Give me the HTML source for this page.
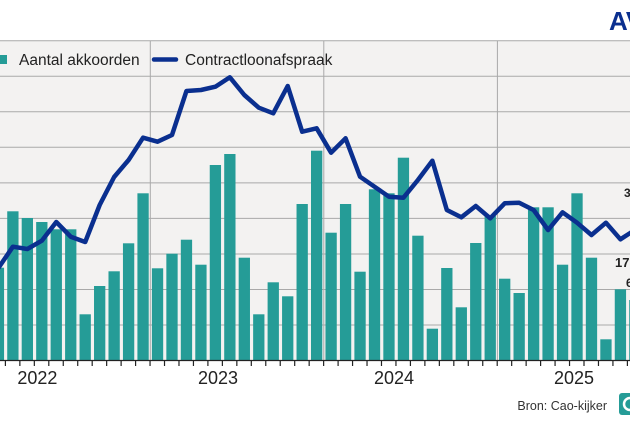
<!DOCTYPE html>
<html><head><meta charset="utf-8"><style>
body{margin:0;background:#fff;width:630px;height:420px;overflow:hidden;font-family:"Liberation Sans",sans-serif}
</style></head><body>
<svg width="630" height="420" xmlns="http://www.w3.org/2000/svg" font-family="Liberation Sans, sans-serif">
<rect x="0" y="0" width="630" height="420" fill="#fff"/>
<rect x="0" y="40.5" width="630" height="319.5" fill="#f3f2f1"/>
<g stroke="#a9a9a9" stroke-width="1">
<line x1="0" x2="630" y1="40.7" y2="40.7"/>
<line x1="0" x2="630" y1="76.2" y2="76.2"/>
<line x1="0" x2="630" y1="111.8" y2="111.8"/>
<line x1="0" x2="630" y1="147.3" y2="147.3"/>
<line x1="0" x2="630" y1="182.9" y2="182.9"/>
<line x1="0" x2="630" y1="218.4" y2="218.4"/>
<line x1="0" x2="630" y1="254" y2="254"/>
<line x1="0" x2="630" y1="289.5" y2="289.5"/>
<line x1="0" x2="630" y1="325" y2="325"/>
<line x1="150.3" x2="150.3" y1="40.7" y2="360"/>
<line x1="323.8" x2="323.8" y1="40.7" y2="360"/>
<line x1="497.4" x2="497.4" y1="40.7" y2="360"/>
</g>
<g fill="#259c97" id="bars"></g>
<polyline id="ln" fill="none" stroke="#0a2f8f" stroke-width="4.5" stroke-linejoin="round" points=""/>
<line x1="0" x2="630" y1="360.5" y2="360.5" stroke="#222" stroke-width="1.2"/>
<g id="ticks" stroke="#222" stroke-width="1.2"></g>
<g font-size="18" fill="#222" text-anchor="middle">
<text x="37.4" y="384">2022</text>
<text x="218" y="384">2023</text>
<text x="394" y="384">2024</text>
<text x="574" y="384">2025</text>
</g>
<text x="607" y="410" font-size="12.5" fill="#333" text-anchor="end">Bron: Cao-kijker</text>
<rect x="619" y="393" width="20" height="22" rx="3" fill="#259c97"/>
<circle cx="630" cy="404" r="6" fill="none" stroke="#fff" stroke-width="2.5"/>
<text x="609" y="30" font-size="26" font-weight="bold" fill="#0a2f8f">AV</text>
<rect x="-2" y="55" width="9" height="9" fill="#259c97"/>
<text x="19" y="65" font-size="15.5" fill="#222">Aantal akkoorden</text>
<line x1="154" x2="176" y1="59.5" y2="59.5" stroke="#0a2f8f" stroke-width="4.5" stroke-linecap="round"/>
<text x="185" y="65" font-size="15.5" fill="#222">Contractloonafspraak</text>
<text x="624" y="197" font-size="12" font-weight="bold" fill="#222">3</text>
<text x="615" y="267" font-size="13" font-weight="bold" fill="#222">17</text>
<text x="626" y="287" font-size="12" font-weight="bold" fill="#222">6</text>
</svg>
<script>
var tops=[267.7,211.3,218,222,229.3,229.3,314.3,286,271.3,243.3,193.3,268.3,253.7,239.7,264.7,165,154,257.7,314.3,282.3,296.3,204,150.7,232.7,204,271.7,189.3,193.3,157.7,235.7,328.7,268,307.3,243,216,278.7,293,207.3,207.3,264.7,193.3,257.7,339.3,289.3,300];
var ly=[268,246.7,249,240.7,222,236.7,242,205,177,160,137.7,141.7,135,91,90,86.7,77.3,95,107.7,113.3,86,131.7,128.3,152.7,138.3,176.7,186.7,196.7,197.7,180,160.7,210,217.3,206,218.3,203.3,202.7,210,230,212.3,222.7,235,222.7,239.3,230];
var ns="http://www.w3.org/2000/svg",b=document.getElementById('bars'),pts=[],t=document.getElementById('ticks');
for(var i=0;i<tops.length;i++){var j=i-1,x=7.23+14.465*j;var r=document.createElementNS(ns,'rect');r.setAttribute('x',x);r.setAttribute('width',11.3);r.setAttribute('y',tops[i]);r.setAttribute('height',360-tops[i]);b.appendChild(r);pts.push((x+5.65)+','+ly[i]);}
document.getElementById('ln').setAttribute('points',pts.join(' '));
for(var k=0;k<45;k++){var x=5.4+14.465*k;var l=document.createElementNS(ns,'line');l.setAttribute('x1',x);l.setAttribute('x2',x);l.setAttribute('y1',360);l.setAttribute('y2',366);t.appendChild(l);}
</script>
</body></html>
